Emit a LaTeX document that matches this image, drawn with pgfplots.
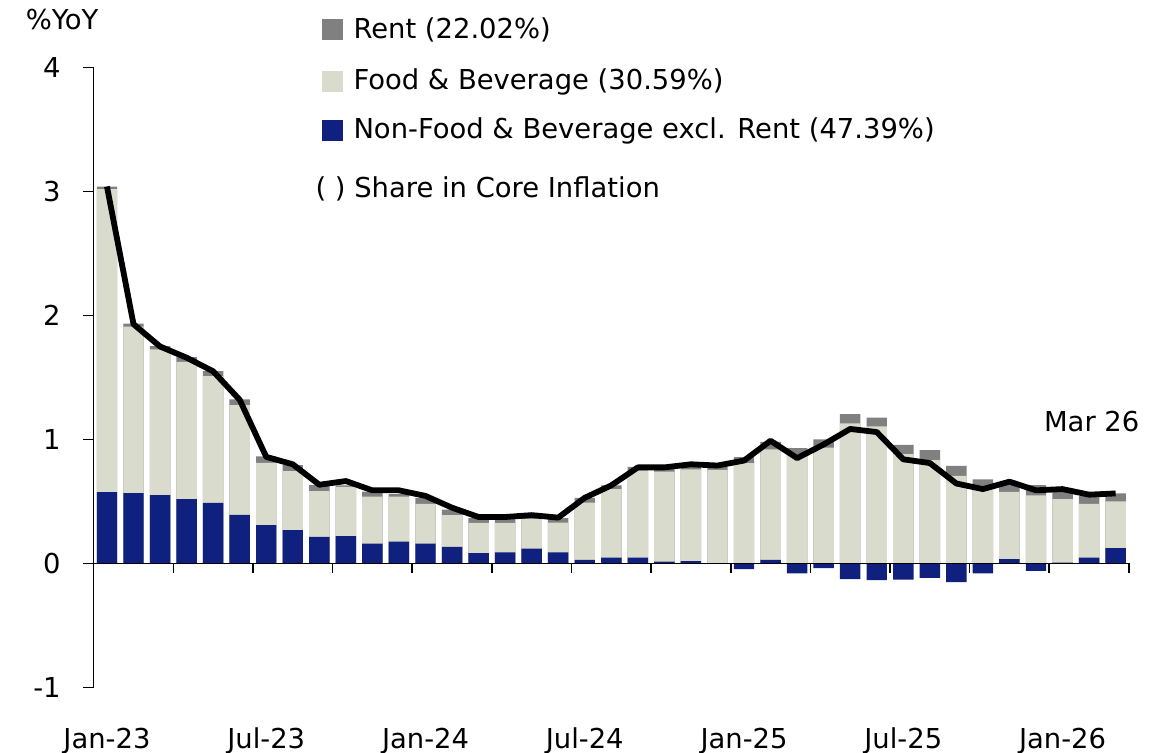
\documentclass[border=0pt]{standalone}
\usepackage{pgfplots}
\pgfplotsset{compat=1.18}
\usepackage{pgfplotstable}
\usepackage{fontspec}
\setmainfont{DejaVu Sans}
\definecolor{navy}{HTML}{10207F}
\definecolor{food}{HTML}{D9DCCC}
\definecolor{rent}{HTML}{808080}

% cumulative tops of the stacked segments (food starts at 0, navy may be negative)
\pgfplotstableread{
i navy food rent core
0 0.575 3.020 3.040 3.040
1 0.567 1.910 1.935 1.930
2 0.551 1.726 1.752 1.750
3 0.519 1.626 1.664 1.660
4 0.489 1.511 1.551 1.550
5 0.392 1.277 1.323 1.320
6 0.309 0.812 0.863 0.860
7 0.269 0.745 0.793 0.800
8 0.215 0.583 0.632 0.635
9 0.220 0.618 0.630 0.665
10 0.160 0.540 0.580 0.590
11 0.177 0.540 0.560 0.590
12 0.160 0.480 0.530 0.545
13 0.135 0.390 0.435 0.450
14 0.083 0.327 0.365 0.375
15 0.089 0.327 0.360 0.375
16 0.120 0.360 0.375 0.390
17 0.089 0.330 0.365 0.370
18 0.030 0.490 0.530 0.530
19 0.047 0.600 0.630 0.630
20 0.047 0.750 0.780 0.775
21 0.015 0.740 0.770 0.775
22 0.020 0.760 0.785 0.800
23 0.000 0.755 0.780 0.790
24 -0.045 0.810 0.858 0.830
25 0.030 0.920 0.980 0.990
26 -0.080 0.877 0.930 0.850
27 -0.037 0.935 1.000 0.960
28 -0.126 1.130 1.205 1.085
29 -0.134 1.105 1.177 1.060
30 -0.130 0.882 0.957 0.840
31 -0.115 0.834 0.914 0.810
32 -0.150 0.707 0.788 0.645
33 -0.080 0.619 0.678 0.600
34 0.035 0.578 0.632 0.660
35 -0.059 0.550 0.632 0.590
36 0.008 0.520 0.575 0.600
37 0.048 0.480 0.546 0.555
38 0.124 0.500 0.565 0.565
}\data

\begin{document}
\begin{tikzpicture}[font=\fontsize{13.7}{17}\selectfont]
\path[use as bounding box] (-46.85pt,-32.75pt) rectangle (536.15pt,343.75pt);
\begin{axis}[
  at={(0,0)}, anchor=south west,
  scale only axis, width=517.6pt, height=310pt,
  xmin=-0.5, xmax=38.5, ymin=-1, ymax=4,
  ybar, bar width=0.77, bar shift=0pt,
  axis y line=left, axis x line=bottom,
  x axis line style={draw=none},
  y axis line style={-, line width=0.8pt, black},
  ytick={-1,0,1,2,3,4},
  tick align=outside,
  ytick style={line width=0.8pt, black},
  major tick length=5.5pt,
  xtick={0,6,...,36},
  xticklabels={Jan-23,Jul-23,Jan-24,Jul-24,Jan-25,Jul-25,Jan-26},
  xtick style={draw=none},
  xticklabel style={anchor=base, yshift=-25pt},
  yticklabel style={anchor=east, xshift=-7.5pt},
  /pgf/number format/assume math mode=true,
  ticklabel style={font=\fontsize{13.7}{17}\selectfont},
  clip=false,
]
\addplot[fill=rent, draw=none] table[x=i,y=rent]{\data};
\addplot[fill=food, draw=none] table[x=i,y=food]{\data};
\addplot[fill=navy, draw=none] table[x=i,y=navy]{\data};
\draw[line width=0.8pt] (axis cs:-0.5,0) -- (axis cs:38.5,0);
\pgfplotsinvokeforeach{0,...,13}{\draw[line width=0.8pt] (axis cs:{-0.5+3*#1},0) -- ++(0pt,-5pt);}
\addplot[sharp plot, black, line width=2.9pt, mark=none, line join=round] table[x=i,y=core]{\data};
\end{axis}
\node at (-15.8pt,333.8pt) {\%YoY};
\fill[rent] (114.2pt,323.6pt) rectangle ++(10.5pt,10.5pt);
\node[anchor=west, inner sep=0pt] at (129.7pt,328.8pt) {Rent (22.02\%)};
\fill[food] (114.2pt,297.6pt) rectangle ++(10.5pt,10.5pt);
\node[anchor=west, inner sep=0pt] at (129.7pt,302.8pt) {Food \& Beverage (30.59\%)};
\fill[navy] (114.2pt,273.1pt) rectangle ++(10.5pt,10.5pt);
\node[anchor=west, inner sep=0pt] at (129.7pt,278.3pt) {Non-Food \& Beverage excl. Rent (47.39\%)};
\node[anchor=west, inner sep=0pt] at (110.7pt,249.3pt) {( ) Share in Core Inflation};
\node at (499pt,132.8pt) {Mar 26};
\end{tikzpicture}
\end{document}
